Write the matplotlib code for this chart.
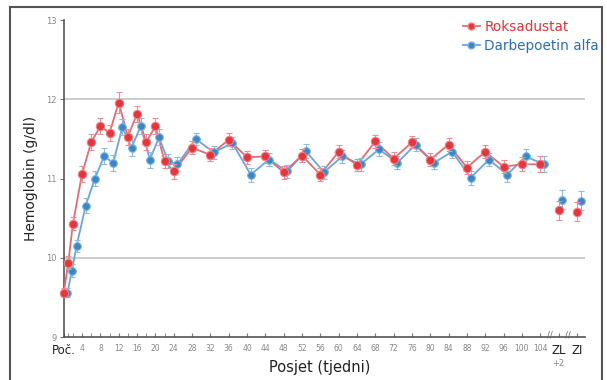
import matplotlib
matplotlib.use('Agg')
import matplotlib.pyplot as plt
from matplotlib.lines import Line2D
from matplotlib.patches import Rectangle
from matplotlib.transforms import blended_transform_factory

# tjedni (ZL+2 i ZL su na pozicijama 108 i 112)
weeks = [0, 1, 2, 4, 6, 8, 10, 12, 14, 16, 18, 20, 22, 24, 28, 32, 36, 40, 44, 48,
         52, 56, 60, 64, 68, 72, 76, 80, 84, 88, 92, 96, 100, 104, 108, 112]

roksadustat = [9.56, 9.94, 10.43, 11.06, 11.46, 11.66, 11.58, 11.96, 11.53, 11.82,
               11.46, 11.66, 11.22, 11.09, 11.39, 11.30, 11.49, 11.27, 11.28, 11.08,
               11.29, 11.05, 11.34, 11.17, 11.47, 11.25, 11.46, 11.24, 11.43, 11.14,
               11.34, 11.15, 11.18, 11.18, 10.60, 10.58]
roksadustat_err = [0.06, 0.08, 0.08, 0.10, 0.10, 0.10, 0.10, 0.13, 0.10, 0.10,
                   0.10, 0.10, 0.09, 0.09, 0.08, 0.08, 0.08, 0.08, 0.08, 0.08,
                   0.08, 0.08, 0.08, 0.08, 0.08, 0.08, 0.08, 0.08, 0.08, 0.08,
                   0.08, 0.08, 0.09, 0.10, 0.12, 0.12]

darbepoetin = [9.56, 9.84, 10.15, 10.66, 11.00, 11.28, 11.20, 11.65, 11.39, 11.66,
               11.24, 11.52, 11.22, 11.18, 11.50, 11.33, 11.45, 11.05, 11.24, 11.09,
               11.35, 11.08, 11.28, 11.18, 11.37, 11.20, 11.43, 11.20, 11.34, 11.01,
               11.24, 11.05, 11.28, 11.18, 10.73, 10.72]
darbepoetin_err = [0.06, 0.08, 0.08, 0.09, 0.09, 0.10, 0.10, 0.10, 0.10, 0.10,
                   0.10, 0.10, 0.09, 0.09, 0.08, 0.08, 0.08, 0.09, 0.08, 0.08,
                   0.09, 0.08, 0.08, 0.08, 0.09, 0.08, 0.08, 0.08, 0.08, 0.09,
                   0.08, 0.09, 0.09, 0.10, 0.12, 0.12]

major_ticks = [0, 4, 8, 12, 16, 20, 24, 28, 32, 36, 40, 44, 48, 52, 56, 60, 64, 68,
               72, 76, 80, 84, 88, 92, 96, 100, 104, 108, 112]
major_labels = ['Poč.', '4', '8', '12', '16', '20', '24', '28', '32', '36', '40', '44',
                '48', '52', '56', '60', '64', '68', '72', '76', '80', '84', '88', '92',
                '96', '100', '104', 'ZL', 'ZI']
minor_ticks = [1, 2, 6, 10, 14, 18, 22]

red = '#e2373d'
red_line = '#e36b78'
blue = '#3b86c6'
blue_line = '#6aa6d8'

fig = plt.figure(figsize=(6.07, 3.8), dpi=100)
ax = fig.add_axes([0.105, 0.113, 0.859, 0.834])

# rub slike
fig.patches.append(Rectangle((0.0165, -0.05), 0.976, 1.0316, transform=fig.transFigure,
                             fill=False, edgecolor='#555555', lw=1.5))

# linije mreže na 10 i 12
for yv in [10, 12]:
    ax.axhline(yv, color='#c4c4c4', lw=1.2, zorder=0)

n_main = 34
off = 0.8
xr = [w for w in weeks]
xb = [w + off for w in weeks]

ax.plot(xr[:n_main], roksadustat[:n_main], color=red_line, lw=1.3, zorder=3)
ax.plot(xb[:n_main], darbepoetin[:n_main], color=blue_line, lw=1.3, zorder=2)

ax.errorbar(xb, darbepoetin, yerr=darbepoetin_err, fmt='o', ms=5.5, color=blue,
            mec='#7fb3de', mew=0.8, ecolor='#8cbbe3', elinewidth=0.8, capsize=2,
            capthick=0.8, zorder=4, clip_on=False)
ax.errorbar(xr, roksadustat, yerr=roksadustat_err, fmt='o', ms=6, color=red,
            mec='#ee7f86', mew=0.8, ecolor='#ef8d93', elinewidth=0.8, capsize=2,
            capthick=0.8, zorder=5, clip_on=False)

ax.set_xlim(0, 113.8)
ax.set_ylim(9, 13)

ax.set_xticks(major_ticks)
ax.set_xticklabels(major_labels)
ax.set_xticks(minor_ticks, minor=True)
ax.tick_params(axis='x', which='both', direction='in', length=3, color='#777777',
               labelsize=5.5, labelcolor='#888888', pad=5)
for lab in ax.get_xticklabels():
    if lab.get_text() in ('Poč.', 'ZL', 'ZI'):
        lab.set_fontsize(8.5)
        lab.set_color('#222222')

# "+2" ispod ZL
trans = blended_transform_factory(ax.transData, ax.transAxes)
ax.text(108, -0.07, '+2', transform=trans, ha='center', va='top', fontsize=6,
        color='#888888')

ax.set_yticks([9, 10, 11, 12, 13])
ax.tick_params(axis='y', direction='out', length=3, color='#777777',
               labelsize=6, labelcolor='#888888', pad=2)

for s in ['top', 'right']:
    ax.spines[s].set_visible(False)
for s in ['left', 'bottom']:
    ax.spines[s].set_color('#555555')
    ax.spines[s].set_linewidth(1.2)

# oznake prekida osi
for xp in [106, 110]:
    ax.text(xp, 9.03, '//', ha='center', va='center', fontsize=6, color='#666666',
            clip_on=False)

ax.set_ylabel('Hemoglobin (g/dl)', fontsize=10, color='#222222')
ax.yaxis.set_label_coords(-0.05, 0.5)
ax.set_xlabel('Posjet (tjedni)', fontsize=10.5, color='#222222')
ax.xaxis.set_label_coords(0.49, -0.072)

handles = [Line2D([], [], color=red_line, marker='o', mfc=red, mec='#ee7f86', ms=5, lw=1.3),
           Line2D([], [], color=blue_line, marker='o', mfc=blue, mec='#7fb3de', ms=5, lw=1.3)]
leg = ax.legend(handles, ['Roksadustat', 'Darbepoetin alfa'], loc='upper right',
                bbox_to_anchor=(1.05, 1.04), frameon=False, fontsize=9.8,
                handlelength=1.3, handletextpad=0.3, labelspacing=0.4)
leg.get_texts()[0].set_color('#e0353b')
leg.get_texts()[1].set_color('#2f6fb4')

fig.savefig('out.png', dpi=100)
